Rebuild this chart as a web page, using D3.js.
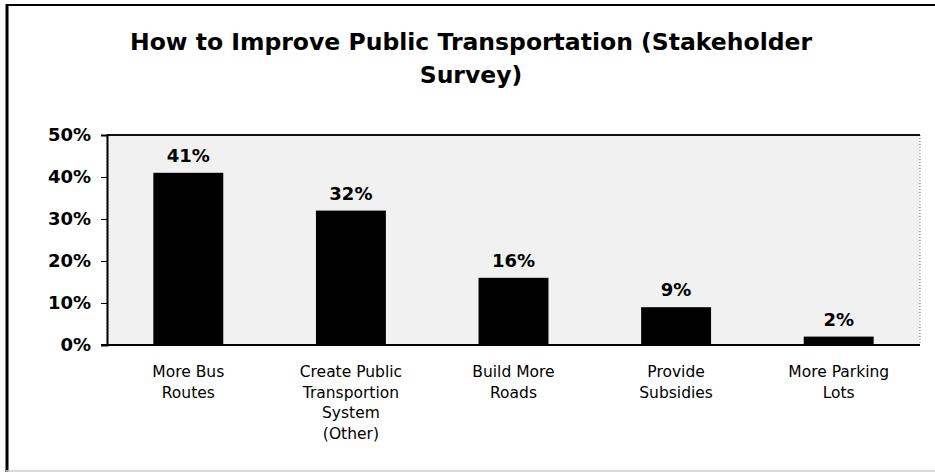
<!DOCTYPE html>
<html>
<head>
<meta charset="utf-8">
<script src="https://cdn.jsdelivr.net/npm/d3@7"></script>
<style>
  body { margin: 0; background: #fff; }
  svg { display: block; font-family: Tahoma, "DejaVu Sans", Verdana, sans-serif; }
</style>
</head>
<body>
<script>
// chart data
var categories = [
    ["More Bus", "Routes"],
    ["Create Public", "Transportion", "System", "(Other)"],
    ["Build More", "Roads"],
    ["Provide", "Subsidies"],
    ["More Parking", "Lots"]
];
var values = [41, 32, 16, 9, 2];
var yTicks = [0, 10, 20, 30, 40, 50];
var titleLines = ["How to Improve Public Transportation (Stakeholder", "Survey)"];

var width = 935,
    height = 475;

var plot = { left: 107, right: 920, top: 135, bottom: 345 };

var svg = d3.select("body")
    .append("svg")
    .attr("width", width)
    .attr("height", height);

// outer frame
svg.append("line").attr("x1", 7).attr("x2", 7).attr("y1", 4).attr("y2", 472)
    .attr("stroke", "#000").attr("stroke-width", 3);
svg.append("line").attr("x1", 6).attr("x2", 935).attr("y1", 5).attr("y2", 5)
    .attr("stroke", "#000").attr("stroke-width", 2);
svg.append("line").attr("x1", 6).attr("x2", 935).attr("y1", 471).attr("y2", 471)
    .attr("stroke", "#ccc").attr("stroke-width", 1.5);

// title
svg.append("text")
    .attr("x", 471)
    .attr("y", 50)
    .attr("text-anchor", "middle")
    .style("font-weight", "bold")
    .style("font-size", "23.5px")
    .selectAll("tspan")
    .data(titleLines)
    .enter()
    .append("tspan")
    .attr("x", 471)
    .attr("dy", function(d, i){ return i ? 33 : 0; })
    .text(function(d){ return d; });

var x = d3.scaleBand()
    .domain(d3.range(categories.length))
    .range([plot.left, plot.right])
    .paddingInner(0.57)
    .paddingOuter(0.285);

var y = d3.scaleLinear()
    .domain([0, 50])
    .range([plot.bottom, plot.top]);

// plot area background (speckled grey)
svg.append("rect")
    .attr("x", plot.left)
    .attr("y", plot.top)
    .attr("width", plot.right - plot.left)
    .attr("height", plot.bottom - plot.top)
    .attr("fill", "#f1f1f1")
    .attr("stroke", "#777")
    .attr("stroke-dasharray", "1,2");

svg.append("line")
    .attr("x1", plot.left).attr("x2", plot.right)
    .attr("y1", plot.top).attr("y2", plot.top)
    .attr("stroke", "#111").attr("stroke-width", 2);

// bars
svg.selectAll(".bar")
    .data(values)
    .enter()
    .append("rect")
    .attr("class", "bar")
    .attr("x", function(d, i){ return x(i); })
    .attr("y", function(d){ return y(d); })
    .attr("width", x.bandwidth())
    .attr("height", function(d){ return y(0) - y(d); })
    .attr("fill", "#000");

// data labels
svg.selectAll(".val")
    .data(values)
    .enter()
    .append("text")
    .attr("class", "val")
    .attr("x", function(d, i){ return x(i) + x.bandwidth() / 2; })
    .attr("y", function(d){ return y(d) - 11; })
    .attr("text-anchor", "middle")
    .style("font-weight", "bold")
    .style("font-size", "18px")
    .text(function(d){ return d + "%"; });

// y axis
var yAxis = svg.append("g")
    .attr("transform", "translate(" + plot.left + ",0)")
    .call(d3.axisLeft(y).tickValues(yTicks).tickSize(6).tickPadding(10)
        .tickFormat(function(d){ return d + "%"; }));
yAxis.select(".domain").attr("stroke", "#000").attr("stroke-width", 2);
yAxis.selectAll("text")
    .style("font-size", "18px")
    .style("font-weight", "bold")
    .style("font-family", "Tahoma, 'DejaVu Sans', sans-serif")
    .attr("fill", "#000");

// x baseline
svg.append("line")
    .attr("x1", plot.left - 6).attr("x2", plot.right)
    .attr("y1", plot.bottom).attr("y2", plot.bottom)
    .attr("stroke", "#000").attr("stroke-width", 2);

// category labels
svg.selectAll(".cat")
    .data(categories)
    .enter()
    .append("text")
    .attr("class", "cat")
    .attr("text-anchor", "middle")
    .attr("y", 377)
    .style("font-size", "15.5px")
    .each(function(lines, i){
        d3.select(this).selectAll("tspan")
            .data(lines)
            .enter()
            .append("tspan")
            .attr("x", x(i) + x.bandwidth() / 2)
            .attr("dy", function(d, j){ return j ? 20.5 : 0; })
            .text(function(d){ return d; });
    });
</script>
</body>
</html>
